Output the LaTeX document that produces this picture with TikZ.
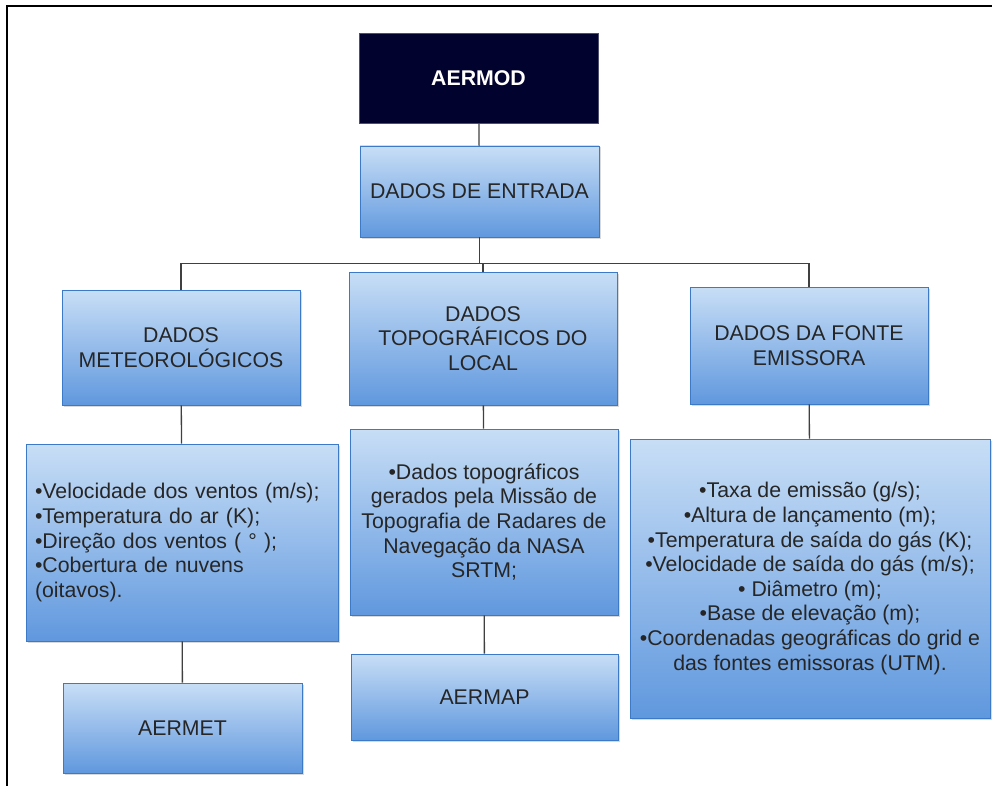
\documentclass[tikz,border=0pt]{standalone}
\usepackage{fontspec}
\setmainfont{Liberation Sans}
\usetikzlibrary{shadows}

\definecolor{boxtop}{RGB}{200,222,246}
\definecolor{boxbottom}{RGB}{96,152,222}
\definecolor{boxline}{RGB}{60,122,200}
\definecolor{navy}{RGB}{2,2,46}

\begin{document}
\begin{tikzpicture}[x=1pt,y=-1pt,line width=1.3pt,draw=black!80]
    \tikzstyle{box}=[rectangle,draw=boxline,line width=0.8pt,top color=boxtop,bottom color=boxbottom,
        drop shadow={shadow xshift=1.5pt,shadow yshift=-1.5pt,opacity=0.3},
        font=\fontsize{21.3}{24.6}\selectfont,text=black!85,align=center,inner sep=0pt]
    \tikzstyle{top box}=[rectangle,fill=navy,draw=navy!70,line width=0.8pt,text=white,
        font=\fontsize{21.3}{24.6}\selectfont\bfseries,inner sep=0pt]
    \tikzstyle{link}=[draw=black!75,line width=1.3pt]

    \useasboundingbox (0,0) rectangle (992,786);
    % Frame round the figure
    \draw[line width=1.6pt,black] (7,800) |- (1000,6);

    % Draw the top nodes
    \node[top box,minimum width=239pt,minimum height=90pt] (aermod) at (478.5,78) {AERMOD};
    \node[box,minimum width=239pt,minimum height=91pt] (entrada) at (479.5,191.5) {DADOS DE ENTRADA};

    % Draw the three groups of data
    \node[box,minimum width=238pt,minimum height=115pt] (met) at (181,347.5) {DADOS\\METEOROLÓGICOS};
    \node[box,minimum width=268pt,minimum height=133pt] (topo) at (483,338.5) {DADOS\\TOPOGRÁFICOS DO\\LOCAL};
    \node[box,minimum width=238pt,minimum height=117pt] (fonte) at (809,345.5) {DADOS DA FONTE\\EMISSORA};

    % Draw the details of each group
    \node[box,align=left,text width=294pt,inner xsep=9pt,minimum height=197pt] (met-dados) at (182,542.5)
        {•Velocidade dos ventos (m/s);\\•Temperatura do ar (K);\\•Direção dos ventos ( ° );\\•Cobertura de nuvens\\(oitavos).};
    \node[box,minimum width=268pt,minimum height=186pt] (topo-dados) at (484,522)
        {•Dados topográficos\\gerados pela Missão de\\Topografia de Radares de\\Navegação da NASA\\SRTM;};
    \node[box,minimum width=360pt,minimum height=279pt] (fonte-dados) at (810,578.5)
        {•Taxa de emissão (g/s);\\•Altura de lançamento (m);\\•Temperatura de saída do gás (K);\\•Velocidade de saída do gás (m/s);\\• Diâmetro (m);\\•Base de elevação (m);\\•Coordenadas geográficas do grid e\\das fontes emissoras (UTM).};

    % Draw the preprocessors
    \node[box,minimum width=239pt,minimum height=90pt] (aermet) at (182.5,728) {AERMET};
    \node[box,minimum width=267pt,minimum height=86pt] (aermap) at (484.5,697) {AERMAP};

    % Connect the top nodes with the groups
    \path[link] (aermod) -- (entrada);
    \path[link] (entrada.south) -- ++(0,26) coordinate (bus);
    \path[link] (met.north) |- (bus) -| (fonte.north);
    \path[link] (bus) -| (topo.north);

    % Connect every group with its details
    \path[link] (met) -- (met-dados);
    \path[link] (topo) -- (topo-dados);
    \path[link] (fonte) -- (fonte-dados);
    \path[link] (met-dados) -- (aermet);
    \path[link] (topo-dados) -- (aermap);
\end{tikzpicture}
\end{document}
